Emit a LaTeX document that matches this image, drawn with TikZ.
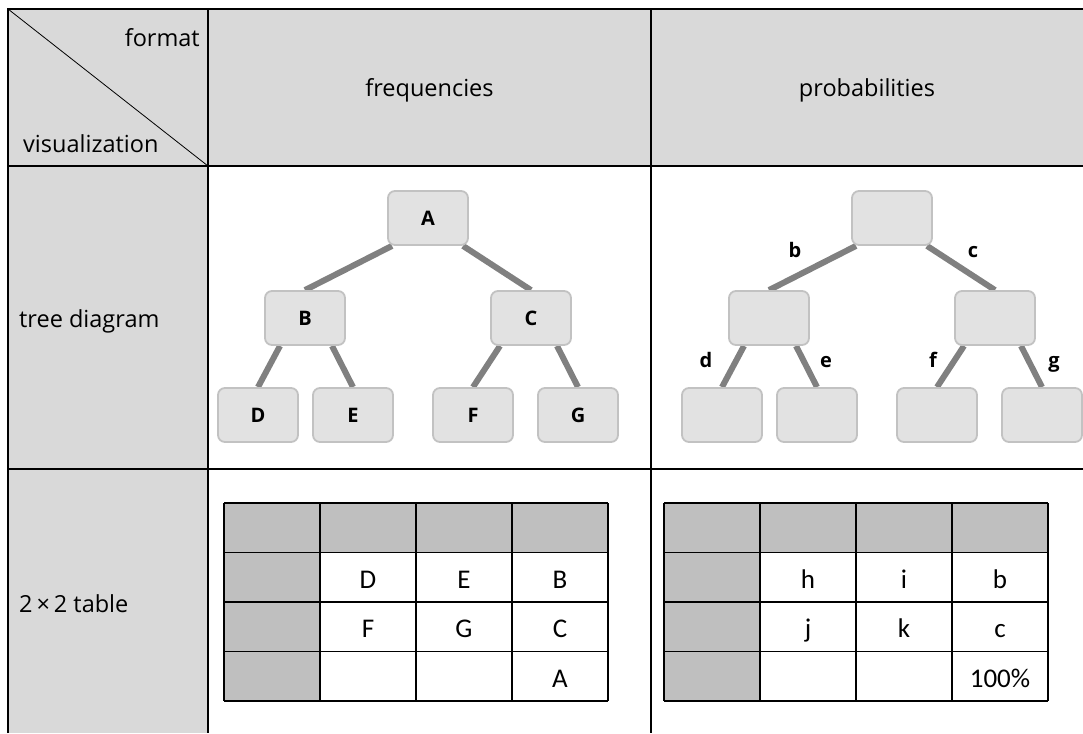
\documentclass[tikz,border=0pt]{standalone}
\usepackage{fontspec}
\setmainfont{Open Sans}
\newfontfamily\cellfont{Carlito}
\usetikzlibrary{backgrounds}
\definecolor{headgray}{HTML}{D9D9D9}
\definecolor{cellgray}{HTML}{BFBFBF}
\definecolor{boxfill}{HTML}{E2E2E2}
\definecolor{boxline}{HTML}{C2C2C2}
\definecolor{branch}{HTML}{808080}
\begin{document}
\begin{tikzpicture}[x=1pt,y=-1pt,font=\fontsize{23.5}{27}\selectfont,
    frame/.style={line width=2pt},
    treebox/.style={draw=boxline,line width=1.8pt,fill=boxfill,rounded corners=7pt,
        minimum width=80pt,minimum height=54pt,font=\fontsize{20}{24}\selectfont\bfseries},
    branchline/.style={draw=branch,line width=6pt},
    branchlabel/.style={anchor=base,inner sep=0pt,font=\fontsize{20}{24}\selectfont\bfseries},
    celltext/.style={anchor=base,inner sep=0pt,font=\cellfont\fontsize{27}{30}\selectfont}]
    \useasboundingbox (0,0) rectangle (1083,733);
    \fill[headgray] (8,9) rectangle (1083,166);
    \fill[headgray] (8,166) rectangle (208,733);
    \draw[frame] (8,733) -- (8,9) -- (1083,9);
    \draw[frame] (8,166) -- (1083,166);
    \draw[frame] (8,469) -- (1083,469);
    \draw[frame] (208,9) -- (208,733);
    \draw[frame] (651,9) -- (651,733);
    \draw[line width=0.8pt] (8,9) -- (208,166);
    \node[anchor=base east,inner sep=0pt] (format) at (200,47) {format};
    \node[anchor=base west,inner sep=0pt] (visual) at (23,152) {visualization};
    \node[anchor=base] (freq) at (429.5,97) {frequencies};
    \node[anchor=base] (prob) at (867,97) {probabilities};
    \node[anchor=base west,inner sep=0pt] (treerow) at (19,327) {tree diagram};
    \node[anchor=base west,inner sep=0pt] (tablerow) at (19,612) {2\,×\,2 table};

    % frequency tree
    \node[treebox] (fA) at (428,218) {A};
    \node[treebox] (fB) at (305,318) {B};
    \node[treebox] (fC) at (531,318) {C};
    \node[treebox] (fD) at (258,415) {D};
    \node[treebox] (fE) at (353,415) {E};
    \node[treebox] (fF) at (473,415) {F};
    \node[treebox] (fG) at (578,415) {G};
    % probability tree
    \node[treebox] (pA) at (892,218) {};
    \node[treebox] (pB) at (769,318) {};
    \node[treebox] (pC) at (995,318) {};
    \node[treebox] (pD) at (722,415) {};
    \node[treebox] (pE) at (817,415) {};
    \node[treebox] (pF) at (937,415) {};
    \node[treebox] (pG) at (1042,415) {};
    \begin{scope}[on background layer]
        \foreach \t in {f,p} {
            \draw[branchline] ([xshift=-36pt]\t A.south) -- (\t B.north);
            \draw[branchline] ([xshift=35pt]\t A.south) -- (\t C.north);
            \draw[branchline] ([xshift=-25pt]\t B.south) -- (\t D.north);
            \draw[branchline] ([xshift=27pt]\t B.south) -- (\t E.north);
            \draw[branchline] ([xshift=-31pt]\t C.south) -- (\t F.north);
            \draw[branchline] ([xshift=26pt]\t C.south) -- (\t G.north);
        }
    \end{scope}
    \node[branchlabel] (lb) at (795,257) {b};
    \node[branchlabel] (lc) at (973,257) {c};
    \node[branchlabel] (ld) at (706,367) {d};
    \node[branchlabel] (le) at (826,367) {e};
    \node[branchlabel] (lf) at (933,367) {f};
    \node[branchlabel] (lg) at (1054,367) {g};

    % 2x2 tables
    \foreach \x in {224,664} {
        \fill[cellgray] (\x,503) rectangle (\x+384,552.5);
        \fill[cellgray] (\x,552.5) rectangle (\x+96,701);
        \foreach \i in {0,...,4}
            \draw[line width=1.5pt] (\x+96*\i,503) -- (\x+96*\i,701);
        \foreach \j in {0,...,4}
            \draw[line width=1.5pt] (\x,503+49.5*\j) -- (\x+384,503+49.5*\j);
    }
    \node[celltext] (tD) at (368,588) {D};
    \node[celltext] (tE) at (464,588) {E};
    \node[celltext] (tB) at (560,588) {B};
    \node[celltext] (tF) at (368,637.5) {F};
    \node[celltext] (tG) at (464,637.5) {G};
    \node[celltext] (tC) at (560,637.5) {C};
    \node[celltext] (tA) at (560,687) {A};
    \node[celltext] (th) at (808,588) {h};
    \node[celltext] (ti) at (904,588) {i};
    \node[celltext] (tb) at (1000,588) {b};
    \node[celltext] (tj) at (808,637.5) {j};
    \node[celltext] (tk) at (904,637.5) {k};
    \node[celltext] (tc) at (1000,637.5) {c};
    \node[celltext] (ttotal) at (1000,687) {100\%};
\end{tikzpicture}
\end{document}
